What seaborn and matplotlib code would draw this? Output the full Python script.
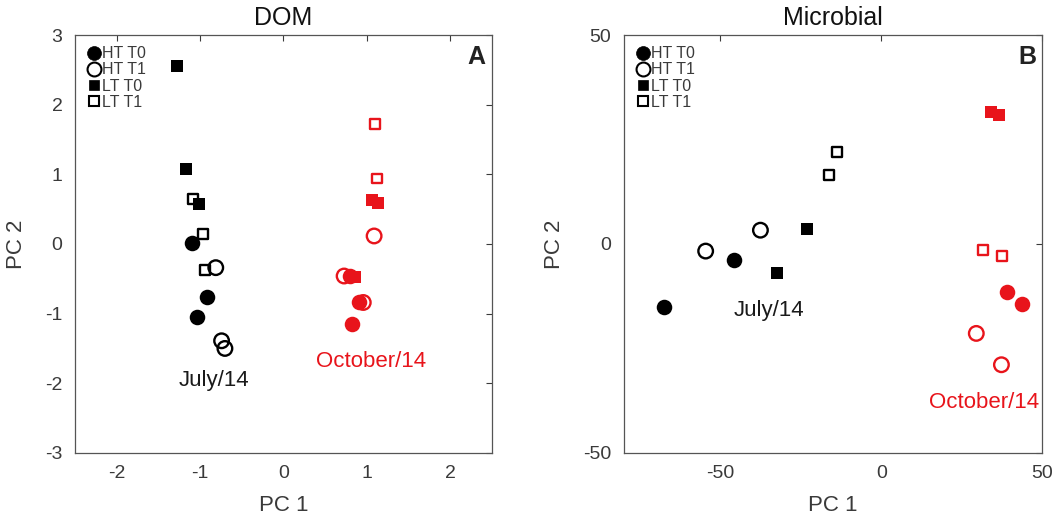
import numpy as np
import pandas as pd
import matplotlib
matplotlib.use("Agg")
import matplotlib.pyplot as plt
from matplotlib.lines import Line2D
import seaborn as sns

sns.set_theme(style="white")
plt.rcParams['font.family'] = ['Liberation Sans', 'DejaVu Sans']
plt.rcParams['axes.unicode_minus'] = False

groups = ["HT T0", "HT T1", "LT T0", "LT T1"]

# ---- DOM panel (A) ----
dom_jul_pc1 = {"HT T0": [-1.10, -0.92, -1.04], "HT T1": [-0.81, -0.74, -0.70],
               "LT T0": [-1.28, -1.165, -1.01], "LT T1": [-1.08, -0.96, -0.94]}
dom_jul_pc2 = {"HT T0": [0.02, -0.76, -1.05], "HT T1": [-0.34, -1.39, -1.50],
               "LT T0": [2.55, 1.07, 0.58], "LT T1": [0.65, 0.14, -0.37]}
dom_oct_pc1 = {"HT T0": [0.80, 0.91, 0.82], "HT T1": [1.09, 0.73, 0.96],
               "LT T0": [1.07, 1.14, 0.86], "LT T1": [1.105, 1.12]}
dom_oct_pc2 = {"HT T0": [-0.46, -0.83, -1.15], "HT T1": [0.115, -0.46, -0.84],
               "LT T0": [0.63, 0.585, -0.48], "LT T1": [1.72, 0.94]}

# ---- Microbial panel (B) ----
mic_jul_pc1 = {"HT T0": [-67.4, -45.7], "HT T1": [-54.5, -37.5],
               "LT T0": [-32.3, -23.0], "LT T1": [-16.3, -13.8]}
mic_jul_pc2 = {"HT T0": [-15.0, -3.8], "HT T1": [-1.7, 3.3],
               "LT T0": [-7.0, 3.7], "LT T1": [16.6, 22.0]}
mic_oct_pc1 = {"HT T0": [38.9, 43.7], "HT T1": [29.5, 37.3],
               "LT T0": [34.2, 36.7], "LT T1": [31.6, 37.5]}
mic_oct_pc2 = {"HT T0": [-11.5, -14.3], "HT T1": [-21.4, -28.9],
               "LT T0": [31.5, 30.8], "LT T1": [-1.35, -2.9]}

month_colors = {"July/14": "black", "October/14": "#e8141b"}


def build(jx, jy, ox, oy):
    rows = []
    for month, xs, ys in [("July/14", jx, jy), ("October/14", ox, oy)]:
        for g in groups:
            for a, b in zip(xs[g], ys[g]):
                rows.append({"month": month, "group": g, "pc1": a, "pc2": b})
    return pd.DataFrame(rows)


dom_df = build(dom_jul_pc1, dom_jul_pc2, dom_oct_pc1, dom_oct_pc2)
mic_df = build(mic_jul_pc1, mic_jul_pc2, mic_oct_pc1, mic_oct_pc2)

style = {"HT T0": dict(marker="o", s=125, filled=True, lw=0),
         "HT T1": dict(marker="o", s=110, filled=False, lw=1.7),
         "LT T0": dict(marker="s", s=68, filled=True, lw=0),
         "LT T1": dict(marker="s", s=50, filled=False, lw=1.7)}

fig = plt.figure(figsize=(10.55, 5.23), dpi=100)
axA = fig.add_axes([0.071, 0.134, 0.395, 0.799])
axB = fig.add_axes([0.591, 0.134, 0.397, 0.799])

text_col = "#3a3a3a"


def draw(ax, df):
    for month, col in month_colors.items():
        for g in groups:
            sub = df[(df.month == month) & (df.group == g)]
            st = style[g]
            if st["filled"]:
                sns.scatterplot(data=sub, x="pc1", y="pc2", ax=ax, marker=st["marker"],
                                s=st["s"], color=col, edgecolor=col, linewidth=0, legend=False)
            else:
                sns.scatterplot(data=sub, x="pc1", y="pc2", ax=ax, marker=st["marker"],
                                s=st["s"], facecolor="none", edgecolor=col,
                                linewidth=st["lw"], legend=False)


draw(axA, dom_df)
draw(axB, mic_df)

for ax in (axA, axB):
    ax.tick_params(direction="in", top=True, right=True, length=4, width=0.8,
                   labelsize=14, colors=text_col, pad=9)
    for sp in ax.spines.values():
        sp.set_color("#555555")
        sp.set_linewidth(0.9)
    ax.set_xlabel("PC 1", fontsize=16, color=text_col, labelpad=9)
    ax.set_ylabel("PC 2", fontsize=16, color=text_col, labelpad=13)
    handles = []
    for g in groups:
        st = style[g]
        ms = 10 if st["marker"] == "o" else 7
        handles.append(Line2D([], [], linestyle="none", marker=st["marker"], markersize=ms,
                              markerfacecolor="black" if st["filled"] else "none",
                              markeredgecolor="black", markeredgewidth=1.5 if not st["filled"] else 0.5))
    ax.legend(handles, groups, loc="upper left", frameon=False, fontsize=11.5,
              handletextpad=0.0, handlelength=1.0, labelspacing=0.08,
              borderaxespad=0.5, borderpad=0.2, labelcolor=text_col)

axA.set_xlim(-2.5, 2.5)
axA.set_ylim(-3, 3)
axA.set_xticks([-2, -1, 0, 1, 2])
axA.set_yticks([-3, -2, -1, 0, 1, 2, 3])
axA.set_title("DOM", fontsize=18, color="#111111", pad=7)
axA.text(0.985, 0.975, "A", transform=axA.transAxes, ha="right", va="top",
         fontsize=18, fontweight="bold", color="#222222")
axA.text(-0.83, -1.96, "July/14", ha="center", va="center", fontsize=16, color="#1a1a1a")
axA.text(1.05, -1.69, "October/14", ha="center", va="center", fontsize=16, color="#e8141b")

axB.set_xlim(-80, 50)
axB.set_ylim(-50, 50)
axB.set_xticks([-50, 0, 50])
axB.set_yticks([-50, 0, 50])
axB.set_title("Microbial", fontsize=18, color="#111111", pad=7)
axB.text(0.985, 0.975, "B", transform=axB.transAxes, ha="right", va="top",
         fontsize=18, fontweight="bold", color="#222222")
axB.text(-34.7, -15.9, "July/14", ha="center", va="center", fontsize=16, color="#1a1a1a")
axB.text(31.8, -37.9, "October/14", ha="center", va="center", fontsize=16, color="#e8141b")

fig.savefig("out.png", dpi=100)
